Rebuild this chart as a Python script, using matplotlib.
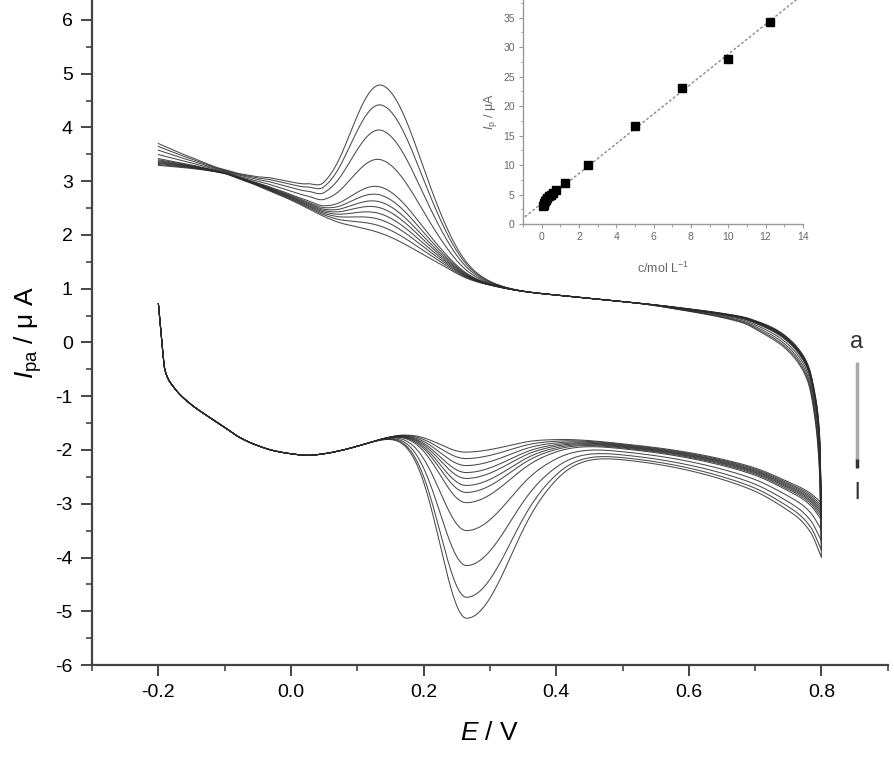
import matplotlib
matplotlib.use("Agg")
import matplotlib.pyplot as plt
from matplotlib.ticker import MultipleLocator
import numpy as np

plt.rcParams.update({"font.family": "Liberation Sans", "mathtext.fontset": "custom",
                     "mathtext.rm": "Liberation Sans", "mathtext.it": "Liberation Sans:italic"})

# forward scan (-0.2 -> 0.8 V), common background
E_fwd = [-0.2, -0.195, -0.19, -0.177, -0.152, -0.127, -0.1, -0.077, -0.05, -0.027, 0.0, 0.025,
         0.05, 0.075, 0.1, 0.124, 0.15, 0.17, 0.2, 0.25, 0.3, 0.35, 0.4, 0.45, 0.5, 0.55, 0.6,
         0.65, 0.7, 0.75, 0.78, 0.8]
I_fwd = [0.72, 0.04, -0.52, -0.83, -1.14, -1.36, -1.58, -1.77, -1.92, -2.01, -2.07, -2.10,
         -2.07, -2.01, -1.93, -1.84, -1.75, -1.70, -1.67, -1.66, -1.65, -1.66, -1.72, -1.79,
         -1.86, -1.93, -2.02, -2.14, -2.30, -2.55, -2.72, -2.90]
# reverse scan (0.8 -> -0.2 V)
E_rev = [0.8, 0.797, 0.79, 0.78, 0.767, 0.75, 0.737, 0.72, 0.7, 0.687, 0.65, 0.6, 0.55, 0.5,
         0.45, 0.4, 0.35, 0.3, 0.27, 0.225, 0.2, 0.175, 0.15, 0.124, 0.1, 0.075, 0.05, 0.025,
         0.0, -0.027, -0.05, -0.075, -0.102, -0.15, -0.2]
I_rev = [-2.90, -1.60, -0.90, -0.40, -0.12, 0.10, 0.22, 0.33, 0.42, 0.47, 0.55, 0.63, 0.70,
         0.76, 0.82, 0.88, 0.95, 1.06, 1.15, 1.38, 1.50, 1.62, 1.74, 1.86, 1.98, 2.12, 2.29,
         2.46, 2.62, 2.77, 2.90, 3.02, 3.14, 3.22, 3.26]

# peak currents of curves a..l (anodic top on reverse scan, cathodic minimum on forward scan)
peak_top = [2.02, 2.15, 2.27, 2.38, 2.49, 2.60, 2.73, 2.88, 3.39, 3.94, 4.41, 4.78]
peak_min = [-2.04, -2.16, -2.29, -2.42, -2.53, -2.66, -2.79, -2.98, -3.50, -4.15, -4.74, -5.13]
# peak position and left/right widths (V)
up_peak = (0.138, 0.050, 0.060)
dn_peak = (0.265, 0.040, 0.074)

# extra offset of the largest curve from the background (scaled down for the others)
sp_fwd_E = [-0.2, 0.33, 0.4, 0.45, 0.5, 0.586, 0.687, 0.74, 0.762, 0.785, 0.8]
sp_fwd_I = [0.0, 0.0, -0.18, -0.25, -0.30, -0.35, -0.45, -0.55, -0.62, -0.80, -1.10]
sp_rev_E = [-0.2, -0.15, -0.1, -0.05, -0.027, 0.0, 0.025, 0.05, 0.08, 0.1, 0.5, 0.6, 0.68,
            0.72, 0.76, 0.78, 0.79, 0.797, 0.8]
sp_rev_I = [0.44, 0.22, 0.08, 0.18, 0.27, 0.30, 0.26, 0.06, 0.0, 0.0, 0.0, -0.05, -0.12,
            -0.22, -0.28, -0.35, -0.50, -0.80, -1.10]

# inset calibration
conc = [0.05, 0.1, 0.15, 0.2, 0.25, 0.3, 0.4, 0.5, 0.6, 0.75, 1.25, 2.5, 5.0, 7.5, 10.0, 12.25]
ip = [3.0, 3.3, 3.6, 3.9, 4.1, 4.4, 4.7, 5.0, 5.3, 5.7, 7.0, 10.0, 16.6, 23.0, 28.0, 34.3]
fit_slope, fit_icpt = 2.53, 3.5


def pchip(xk, yk, x):
    # monotone cubic through the read points
    xk, yk = np.asarray(xk, float), np.asarray(yk, float)
    if xk[0] > xk[-1]:
        xk, yk = xk[::-1], yk[::-1]
    h = np.diff(xk)
    d = np.diff(yk) / h
    m = np.zeros_like(yk)
    m[0], m[-1] = d[0], d[-1]
    for k in range(1, len(xk) - 1):
        if d[k - 1] * d[k] > 0:
            w1, w2 = 2 * h[k] + h[k - 1], h[k] + 2 * h[k - 1]
            m[k] = (w1 + w2) / (w1 / d[k - 1] + w2 / d[k])
    i = np.clip(np.searchsorted(xk, x) - 1, 0, len(h) - 1)
    t = (x - xk[i]) / h[i]
    return ((2 * t**3 - 3 * t**2 + 1) * yk[i] + (t**3 - 2 * t**2 + t) * h[i] * m[i]
            + (-2 * t**3 + 3 * t**2) * yk[i + 1] + (t**3 - t**2) * h[i] * m[i + 1])


def peak(E, h, c, sl, sr):
    s = np.where(E < c, sl, sr)
    return h * np.exp(-(E - c) ** 2 / (2 * s ** 2))


fig = plt.figure(figsize=(8.94, 7.63), dpi=100)
ax = fig.add_axes([0.103, 0.1284, 0.890, 0.8716])

ef = np.linspace(-0.2, 0.8, 1201)
er = ef[::-1]
base_f = pchip(E_fwd, I_fwd, ef)
base_r = pchip(E_rev, I_rev, er)
bu = pchip(E_rev, I_rev, np.array([up_peak[0]]))[0]
bd = pchip(E_fwd, I_fwd, np.array([dn_peak[0]]))[0]
spf = pchip(sp_fwd_E, sp_fwd_I, ef)
spr = pchip(sp_rev_E, sp_rev_I, er)
hmax = max(peak_top) - bu
for top, mn in zip(peak_top, peak_min):
    frac = (top - bu) / hmax
    yf = base_f + peak(ef, mn - bd, *dn_peak) + frac * spf
    yr = base_r + peak(er, top - bu, *up_peak) + frac * spr
    E = np.concatenate([ef, er[1:]])
    I = np.concatenate([yf, yr[1:]])
    ax.plot(E, I, color="#2a2a2a", lw=0.75, alpha=0.85)

ax.set_xlim(-0.3, 0.9)
ax.set_ylim(-6, 6.37)
ax.xaxis.set_minor_locator(MultipleLocator(0.1))
ax.yaxis.set_minor_locator(MultipleLocator(0.5))
ax.set_xticks(np.arange(-0.2, 0.81, 0.2))
ax.set_xticklabels(["-0.2", "0.0", "0.2", "0.4", "0.6", "0.8"])
ax.set_yticks(range(-6, 7))
ax.set_yticklabels([str(v) for v in range(-6, 7)])
for s in ["top", "right"]:
    ax.spines[s].set_visible(False)
for s in ["left", "bottom"]:
    ax.spines[s].set_linewidth(1.6)
    ax.spines[s].set_color("#444444")
ax.tick_params(which="major", direction="out", length=8, width=1.4, labelsize=14,
               color="#444444", pad=6)
ax.tick_params(which="minor", direction="out", length=4, width=1.2, color="#444444")
ax.set_xlabel(r"$E$ / V", fontsize=19, labelpad=14)
ax.set_ylabel(r"$I_{\rm pa}$ / μ A", fontsize=19, labelpad=8)

# a -> l marker
ax.text(0.853, 0.0, "a", fontsize=17, ha="center", va="center", color="#333333")
ax.plot([0.853, 0.853], [-0.37, -2.2], color="#aaaaaa", lw=2.5, solid_capstyle="butt")
ax.plot([0.853, 0.853], [-2.16, -2.33], color="#333333", lw=2.5, solid_capstyle="butt")
ax.text(0.853, -2.8, "l", fontsize=17, ha="center", va="center", color="#333333")

# inset
ins = fig.add_axes([0.585, 0.7064, 0.313, 0.2936])
xs = np.array([-0.9, 14.0])
ins.plot(xs, fit_slope * xs + fit_icpt, color="#888888", lw=1.0, ls=(0, (2, 1.5)))
ins.plot(conc, ip, "s", color="black", ms=5.5)
ins.set_xlim(-1, 14)
ins.set_ylim(0, 38)
ins.xaxis.set_major_locator(MultipleLocator(2))
ins.xaxis.set_minor_locator(MultipleLocator(1))
ins.yaxis.set_major_locator(MultipleLocator(5))
ins.yaxis.set_minor_locator(MultipleLocator(2.5))
for s in ["top", "right"]:
    ins.spines[s].set_visible(False)
for s in ["left", "bottom"]:
    ins.spines[s].set_color("#999999")
    ins.spines[s].set_linewidth(1.0)
ins.tick_params(which="major", direction="out", length=3, width=0.8, labelsize=7.5,
                color="#999999", labelcolor="#666666", pad=3)
ins.tick_params(which="minor", direction="out", length=1.8, width=0.7, color="#999999")
ins.set_xlabel(r"c/mol L$^{-1}$", fontsize=9, color="#666666", labelpad=13)
ins.set_ylabel(r"$I_{\rm p}$ / μA", fontsize=9, color="#666666", labelpad=3)

fig.savefig("out.png", dpi=100, facecolor="white")
